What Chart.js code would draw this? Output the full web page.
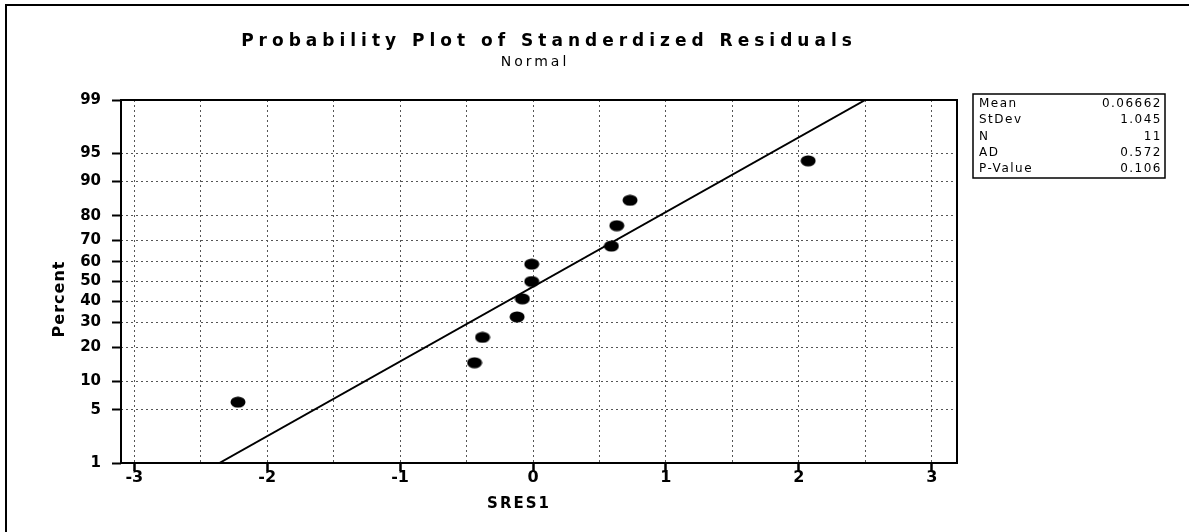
<!DOCTYPE html>
<html>
<head>
<meta charset="utf-8">
<script src="https://cdn.jsdelivr.net/npm/chart.js@4/dist/chart.umd.min.js"></script>
<style>
  body { margin: 0; background: #fff; }
  canvas { display: block; }
</style>
</head>
<body>
<canvas id="chart-prob" width="1189" height="532"></canvas>
<script>
// standardized residuals and their plotting percentiles
const sres = [-2.22, -0.44, -0.38, -0.12, -0.08, -0.01, -0.01, 0.59, 0.63, 0.73, 2.07];
const percent = [6.1, 14.9, 23.7, 32.5, 41.2, 50, 58.8, 67.5, 76.3, 85.1, 93.9];

// fitted normal line (ends at 1% and 99%)
const fitX = [-2.36, 2.50];
const fitPct = [1, 99];

const percentTicks = [1, 5, 10, 20, 30, 40, 50, 60, 70, 80, 90, 95, 99];
const xTicks = [-3, -2.5, -2, -1.5, -1, -0.5, 0, 0.5, 1, 1.5, 2, 2.5, 3];

const statLabels = ["Mean", "StDev", "N", "AD", "P-Value"];
const statValues = ["0.06662", "1.045", "11", "0.572", "0.106"];

// inverse normal cdf (Acklam)
function normInv(p) {
  const a = [-39.69683028665376, 220.9460984245205, -275.9285104469687, 138.3577518672690, -30.66479806614716, 2.506628277459239];
  const b = [-54.47609879822406, 161.5858368580409, -155.6989798598866, 66.80131188771972, -13.28068155288572];
  const c = [-0.007784894002430293, -0.3223964580411365, -2.400758277161838, -2.549732539343734, 4.374664141464968, 2.938163982698783];
  const d = [0.007784695709041462, 0.3224671290700398, 2.445134137142996, 3.754408661907416];
  const lo = 0.02425, hi = 1 - lo;
  let q, r;
  if (p < lo) {
    q = Math.sqrt(-2 * Math.log(p));
    return (((((c[0]*q+c[1])*q+c[2])*q+c[3])*q+c[4])*q+c[5]) / ((((d[0]*q+d[1])*q+d[2])*q+d[3])*q+1);
  }
  if (p > hi) {
    q = Math.sqrt(-2 * Math.log(1 - p));
    return -(((((c[0]*q+c[1])*q+c[2])*q+c[3])*q+c[4])*q+c[5]) / ((((d[0]*q+d[1])*q+d[2])*q+d[3])*q+1);
  }
  q = p - 0.5; r = q * q;
  return (((((a[0]*r+a[1])*r+a[2])*r+a[3])*r+a[4])*r+a[5])*q / (((((b[0]*r+b[1])*r+b[2])*r+b[3])*r+b[4])*r+1);
}

function normCdf(z) {
  // bisection on normInv, good enough for hover
  let lo = 1e-6, hi = 1 - 1e-6;
  for (let i = 0; i < 50; i++) {
    const mid = (lo + hi) / 2;
    if (normInv(mid) < z) lo = mid; else hi = mid;
  }
  return (lo + hi) / 2;
}

// normal probability axis: values in percent, placed by their z-score
class ProbabilityScale extends Chart.Scale {
  determineDataLimits() {
    this.min = this.options.min;
    this.max = this.options.max;
  }
  buildTicks() {
    return percentTicks.map(v => ({ value: v }));
  }
  getLabelForValue(v) {
    return String(v);
  }
  configure() {
    super.configure();
    this._zLo = normInv(this.min / 100);
    this._zHi = normInv(this.max / 100);
  }
  getPixelForValue(v) {
    const z = normInv(v / 100);
    return this.getPixelForDecimal((z - this._zLo) / (this._zHi - this._zLo));
  }
  getValueForPixel(px) {
    const z = this._zLo + this.getDecimalForPixel(px) * (this._zHi - this._zLo);
    return 100 * normCdf(z);
  }
}
ProbabilityScale.id = "probability";
ProbabilityScale.defaults = {};
Chart.register(ProbabilityScale);

// filled ellipse used as the point marker
function makeDot() {
  const c = document.createElement("canvas");
  c.width = 16; c.height = 12;
  const g = c.getContext("2d");
  g.fillStyle = "#000";
  g.beginPath();
  g.ellipse(8, 6, 7.5, 5.5, 0, 0, Math.PI * 2);
  g.fill();
  return c;
}

const deco = {
  id: "deco",
  afterDraw(chart) {
    const { ctx, chartArea: a } = chart;
    ctx.save();
    ctx.fillStyle = "#000";
    ctx.strokeStyle = "#000";

    // plot frame
    ctx.lineWidth = 2;
    ctx.strokeRect(a.left, a.top, a.right - a.left, a.bottom - a.top);

    // outer page border (top + left)
    ctx.beginPath();
    ctx.moveTo(6, 532);
    ctx.lineTo(6, 5);
    ctx.lineTo(1189, 5);
    ctx.stroke();

    // titles
    ctx.textAlign = "center";
    ctx.textBaseline = "middle";
    ctx.letterSpacing = "5px";
    ctx.font = "bold 17px 'DejaVu Sans'";
    ctx.fillText("Probability Plot of Standerdized Residuals", 549, 42);
    ctx.letterSpacing = "3px";
    ctx.font = "14px 'DejaVu Sans'";
    ctx.fillText("Normal", 535, 62);

    ctx.letterSpacing = "2px";
    ctx.font = "bold 15px 'DejaVu Sans'";
    ctx.fillText("SRES1", 519, 504);

    ctx.letterSpacing = "1px";
    ctx.save();
    ctx.translate(60, 299);
    ctx.rotate(-Math.PI / 2);
    ctx.font = "bold 16px 'DejaVu Sans'";
    ctx.fillText("Percent", 0, 0);
    ctx.restore();

    // stats box
    ctx.lineWidth = 1.5;
    ctx.strokeRect(973, 94, 192, 84);
    ctx.font = "12px 'DejaVu Sans'";
    ctx.letterSpacing = "1.5px";
    statLabels.forEach((lab, i) => {
      const y = 104 + i * 16.2;
      ctx.textAlign = "left";
      ctx.fillText(lab, 979, y);
      ctx.textAlign = "right";
      ctx.fillText(statValues[i], 1162, y);
    });
    ctx.restore();
  },
};

document.addEventListener("DOMContentLoaded", () => {
  const ctx = document.getElementById("chart-prob").getContext("2d");
  new Chart(ctx, {
    type: "scatter",
    data: {
      datasets: [
        {
          label: "SRES1",
          data: sres.map((x, i) => ({ x, y: percent[i] })),
          pointStyle: makeDot(),
          pointRadius: 6,
          pointHoverRadius: 6,
        },
        {
          label: "Fit",
          type: "line",
          data: fitX.map((x, i) => ({ x, y: fitPct[i] })),
          borderColor: "#000",
          borderWidth: 2,
          pointRadius: 0,
          fill: false,
        },
      ],
    },
    options: {
      responsive: false,
      animation: false,
      layout: { padding: { top: 100, right: 232, left: 0, bottom: 0 } },
      plugins: { legend: { display: false }, tooltip: { enabled: true } },
      scales: {
        x: {
          type: "linear",
          min: -3.1,
          max: 3.19,
          afterBuildTicks: (s) => { s.ticks = xTicks.map(v => ({ value: v })); },
          afterFit: (s) => { s.height = 69; },
          border: { display: false, dash: [2, 3] },
          grid: {
            color: "#555",
            lineWidth: 1,
            tickLength: 8,
            tickWidth: 2.5,
            tickColor: (c) => (Number.isInteger(c.tick?.value) ? "#000" : "transparent"),
          },
          ticks: {
            color: "#000",
            padding: -3,
            maxRotation: 0,
            autoSkip: false,
            font: { family: "'DejaVu Sans'", size: 16, weight: "bold" },
            callback: (v) => (Number.isInteger(v) ? String(v) : ""),
          },
        },
        y: {
          type: "probability",
          min: 1,
          max: 99,
          afterFit: (s) => { s.width = 121; },
          border: { display: false, dash: [2, 3] },
          grid: {
            color: "#555",
            lineWidth: 1,
            tickLength: 9,
            tickWidth: 2,
            tickColor: "#000",
          },
          ticks: {
            color: "#000",
            padding: 11,
            autoSkip: false,
            font: { family: "'DejaVu Sans'", size: 15, weight: "bold" },
          },
        },
      },
    },
    plugins: [deco],
  });
});
</script>
</body>
</html>
